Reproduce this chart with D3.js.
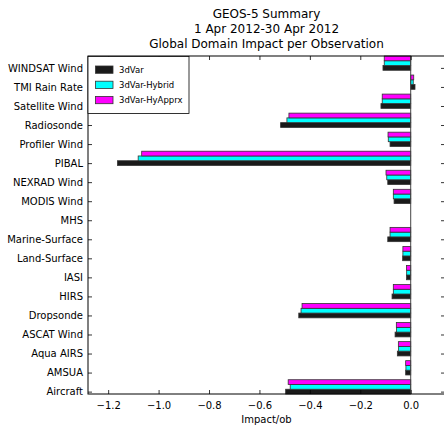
<!DOCTYPE html>
<html>
<head>
<meta charset="utf-8">
<script src="https://cdn.jsdelivr.net/npm/d3@7"></script>
<style>
  body { margin: 0; background: #fff; }
  svg text { font-family: "DejaVu Sans", sans-serif; fill: #000; }
</style>
</head>
<body>
<svg id="chart" width="444" height="425"></svg>
<script>
// categories bottom -> top
const categories = ["Aircraft", "AMSUA", "Aqua AIRS", "ASCAT Wind", "Dropsonde", "HIRS", "IASI",
  "Land-Surface", "Marine-Surface", "MHS", "MODIS Wind", "NEXRAD Wind", "PIBAL", "Profiler Wind",
  "Radiosonde", "Satellite Wind", "TMI Rain Rate", "WINDSAT Wind"];

const var3d = [-0.496, -0.020, -0.053, -0.062, -0.444, -0.074, -0.017, -0.032, -0.091, 0.0,
  -0.066, -0.091, -1.163, -0.082, -0.516, -0.118, 0.017, -0.110];
const hybrid = [-0.478, -0.019, -0.048, -0.056, -0.435, -0.069, -0.016, -0.031, -0.082, 0.0,
  -0.069, -0.095, -1.081, -0.089, -0.491, -0.113, 0.010, -0.105];
const hyApprx = [-0.486, -0.020, -0.049, -0.057, -0.431, -0.069, -0.017, -0.031, -0.082, 0.0,
  -0.069, -0.098, -1.067, -0.090, -0.483, -0.113, 0.012, -0.105];

const seriesNames = ["3dVar", "3dVar-Hybrid", "3dVar-HyApprx"];
const seriesColors = ["#1a1a1a", "#00ffff", "#ff00ff"];
const xTicks = [-1.2, -1.0, -0.8, -0.6, -0.4, -0.2, 0.0];
const titleLines = ["GEOS-5 Summary", "1 Apr 2012-30 Apr 2012", "Global Domain Impact per Observation"];

const svg = d3.select("#chart");
const mLeft = 88, mRight = 445, mTop = 56, mBottom = 394;
const w = 0.25; // bar height in category units

const x = d3.scaleLinear().domain([-1.28, 0.136]).range([mLeft, mRight]);
const y = d3.scaleLinear().domain([-w / 2, categories.length - 1 + 2.5 * w]).range([mBottom, mTop]);

// title
svg.selectAll(".title").data(titleLines).enter().append("text")
  .attr("x", (mLeft + mRight) / 2)
  .attr("y", (d, i) => 17.5 + i * 15)
  .attr("text-anchor", "middle")
  .style("font-size", "12px")
  .text(d => d);

// bars
const allSeries = [var3d, hybrid, hyApprx];
const barLayer = svg.append("g");
allSeries.forEach((vals, s) => {
  barLayer.selectAll(".bar" + s).data(vals).enter().append("rect")
    .attr("x", d => x(Math.min(0, d)))
    .attr("width", d => Math.abs(x(d) - x(0)))
    .attr("y", (d, i) => y(i + s * w + w / 2))
    .attr("height", y(0) - y(w))
    .attr("fill", seriesColors[s])
    .attr("stroke", "#333")
    .attr("stroke-width", 0.8)
    .attr("opacity", d => d === 0 ? 0 : 1);
});

// zero line
svg.append("line")
  .attr("x1", x(0)).attr("x2", x(0))
  .attr("y1", mTop).attr("y2", mBottom)
  .attr("stroke", "#444").attr("stroke-width", 1);

// axes (ticks pointing inward)
const xAxisB = d3.axisBottom(x).tickValues(xTicks).tickSize(-4).tickPadding(8)
  .tickFormat(d => d3.format(".1f")(d).replace("-", "\u2212"));
const gxb = svg.append("g").attr("transform", `translate(0,${mBottom})`).call(xAxisB);
gxb.selectAll("text").style("font-size", "10px");

svg.append("g").attr("transform", `translate(0,${mTop})`)
  .call(d3.axisTop(x).tickValues(xTicks).tickSize(-4).tickFormat(""));

const yAxisL = d3.axisLeft(y).tickValues(d3.range(categories.length)).tickSize(-4).tickPadding(5)
  .tickFormat(i => categories[i]);
const gyl = svg.append("g").attr("transform", `translate(${mLeft},0)`).call(yAxisL);
gyl.selectAll("text").style("font-size", "10px");

svg.append("g").attr("transform", `translate(${mRight},0)`)
  .call(d3.axisRight(y).tickValues(d3.range(categories.length)).tickSize(-4).tickFormat(""));

svg.selectAll(".domain").remove();
svg.selectAll(".tick line").attr("stroke", "#000").attr("stroke-width", 0.8);

// frame
svg.append("rect")
  .attr("x", mLeft).attr("y", mTop)
  .attr("width", mRight - mLeft).attr("height", mBottom - mTop)
  .attr("fill", "none").attr("stroke", "#000").attr("stroke-width", 1);

// x label
svg.append("text")
  .attr("x", (mLeft + mRight) / 2)
  .attr("y", 423)
  .attr("text-anchor", "middle")
  .style("font-size", "10px")
  .text("Impact/ob");

// legend
const legend = svg.append("g");
legend.append("rect")
  .attr("x", mLeft).attr("y", mTop + 0.5)
  .attr("width", 101).attr("height", 57)
  .attr("fill", "#fff").attr("stroke", "#000").attr("stroke-width", 0.8);
seriesNames.forEach((name, i) => {
  legend.append("rect")
    .attr("x", 95.5).attr("y", 66 + i * 15.2)
    .attr("width", 17.5).attr("height", 7.3)
    .attr("fill", seriesColors[i]).attr("stroke", "#333").attr("stroke-width", 0.8);
  legend.append("text")
    .attr("x", 119).attr("y", 73 + i * 15.2)
    .style("font-size", "8.5px")
    .text(name);
});
</script>
</body>
</html>
